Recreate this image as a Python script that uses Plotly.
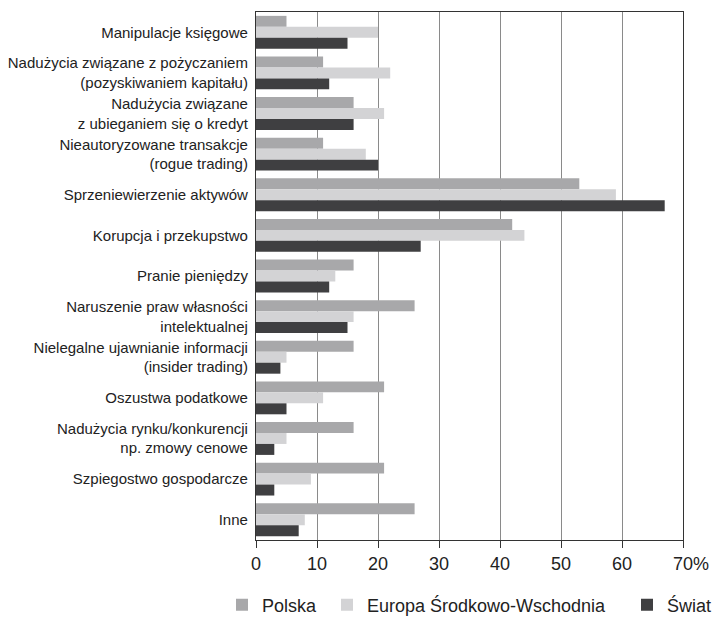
import plotly.graph_objects as go

categories = [
    "Manipulacje księgowe",
    "Nadużycia związane z pożyczaniem<br>(pozyskiwaniem kapitału)",
    "Nadużycia związane<br>z ubieganiem się o kredyt",
    "Nieautoryzowane transakcje<br>(rogue trading)",
    "Sprzeniewierzenie aktywów",
    "Korupcja i przekupstwo",
    "Pranie pieniędzy",
    "Naruszenie praw własności<br>intelektualnej",
    "Nielegalne ujawnianie informacji<br>(insider trading)",
    "Oszustwa podatkowe",
    "Nadużycia rynku/konkurencji<br>np. zmowy cenowe",
    "Szpiegostwo gospodarcze",
    "Inne",
]
polska = [5, 11, 16, 11, 53, 42, 16, 26, 16, 21, 16, 21, 26]
europa = [20, 22, 21, 18, 59, 44, 13, 16, 5, 11, 5, 9, 8]
swiat = [15, 12, 16, 20, 67, 27, 12, 15, 4, 5, 3, 3, 7]
tick_vals = [0, 10, 20, 30, 40, 50, 60, 70]
tick_text = ["0", "10", "20", "30", "40", "50", "60",
             "<span style='color:rgba(0,0,0,0)'>%</span>70%"]

series = [
    ("Polska", polska, "#a8a8aa", "legend"),
    ("Europa Środkowo-Wschodnia", europa, "#d3d3d5", "legend2"),
    ("Świat", swiat, "#3f3f41", "legend3"),
]

fig = go.Figure()
for name, vals, col, lg in series:
    fig.add_trace(go.Bar(
        y=categories, x=vals, name=name, orientation="h",
        marker=dict(color=col, line=dict(width=0)),
        legend=lg, showlegend=True,
    ))

font_family = "Liberation Sans, Arial, sans-serif"
leg_common = dict(orientation="h", xref="container", yref="container",
                  yanchor="middle", y=0.029, xanchor="left",
                  font=dict(size=18, color="#222"), bgcolor="rgba(0,0,0,0)",
                  itemwidth=30, itemclick=False, visible=True)

fig.update_layout(
    width=712, height=623,
    showlegend=True,
    margin=dict(l=256, r=29, t=12, b=83, autoexpand=False),
    paper_bgcolor="white", plot_bgcolor="white",
    font=dict(family=font_family, color="#222"),
    barmode="group", bargap=0.19, bargroupgap=0,
    legend=dict(x=222 / 712, **leg_common),
    legend2=dict(x=327 / 712, **leg_common),
    legend3=dict(x=627 / 712, **leg_common),
    xaxis=dict(
        range=[0, 70], tickvals=tick_vals, ticktext=tick_text,
        showgrid=True, gridcolor="#8a8a8a", gridwidth=1,
        showline=True, linecolor="#333", linewidth=1.2, mirror=True,
        ticks="outside", ticklen=7, tickcolor="#333",
        tickfont=dict(size=18, color="#222"), zeroline=False,
        automargin=False,
    ),
    yaxis=dict(
        autorange="reversed", showline=True, linecolor="#333", linewidth=1.2,
        mirror=True, ticks="", tickfont=dict(size=15, color="#222"),
        ticklabelstandoff=4, automargin=False,
    ),
)

fig.write_html("out.html", config={"displayModeBar": False},
               post_script="document.body.style.margin='0';")
